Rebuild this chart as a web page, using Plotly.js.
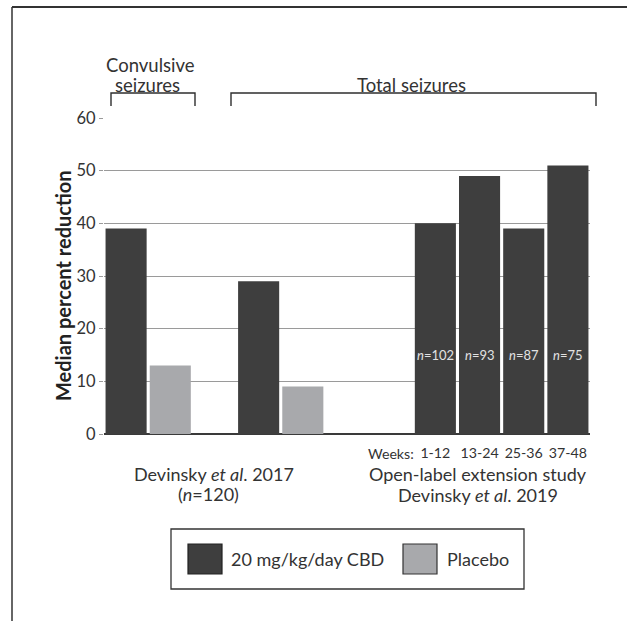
<!DOCTYPE html>
<html>
<head>
<meta charset="utf-8">
<script src="https://cdn.plot.ly/plotly-3.0.1.min.js"></script>
<style>
  html, body { margin: 0; padding: 0; background: #fff; }
  #chart { width: 627px; height: 621px; }
</style>
</head>
<body>
<div id="chart"></div>
<script>
// ---- Data ----
var categories = ["CBD convulsive 2017", "Placebo convulsive 2017", "gap1",
                  "CBD total 2017", "Placebo total 2017", "gap2", "gap3",
                  "Weeks 1-12", "Weeks 13-24", "Weeks 25-36", "Weeks 37-48"];
var cbdCategories = ["CBD convulsive 2017", "CBD total 2017",
                     "Weeks 1-12", "Weeks 13-24", "Weeks 25-36", "Weeks 37-48"];
var cbdValues = [39, 29, 40, 49, 39, 51];
var placeboCategories = ["Placebo convulsive 2017", "Placebo total 2017"];
var placeboValues = [13, 9];
var weekCategories = ["Weeks 1-12", "Weeks 13-24", "Weeks 25-36", "Weeks 37-48"];
var weekLabels = ["1-12", "13-24", "25-36", "37-48"];
var weekN = ["102", "93", "87", "75"];
var yTicks = [0, 10, 20, 30, 40, 50, 60];

// ---- Styling ----
var FONT = "Lato, 'Open Sans', sans-serif";
var TXT = "#333333";
var DARK = "#3e3e3e";
var GRAY = "#a8a9ac";

// plot area in pixels: x 104..590, y 118..434
var L = 104, R = 590, T = 118, B = 434;
function px(x) { return (x - L) / (R - L); }
function py(y) { return (B - y) / (B - T); }

var traces = [
  { type: "bar", x: cbdCategories, y: cbdValues, name: "20 mg/kg/day CBD",
    marker: { color: DARK }, hoverinfo: "x+y" },
  { type: "bar", x: placeboCategories, y: placeboValues, name: "Placebo",
    marker: { color: GRAY }, hoverinfo: "x+y" }
];

function note(text, x, y, size, anchor) {
  return { text: text, xref: "paper", yref: "paper", x: px(x), y: py(y), showarrow: false,
           font: { family: FONT, size: size, color: TXT }, xanchor: anchor || "center", yanchor: "middle" };
}

var yTitle = note("<b>Median percent reduction</b>", 63, 286, 20);
yTitle.textangle = -90;
yTitle.font.color = "#222";

var annotations = [
  yTitle,
  note("Convulsive", 150, 65, 18.5),
  note("seizures", 147, 85, 18.5),
  note("Total seizures", 411, 85, 18.5),
  note("Weeks:", 416, 453, 14.2, "right"),
  note("Devinsky <i>et al</i>. 2017", 214, 474, 18),
  note("(<i>n</i>=120)", 208, 494, 18),
  note("Open-label extension study", 478, 474, 18),
  note("Devinsky <i>et al</i>. 2019", 478, 495, 18),
  note("20 mg/kg/day CBD", 229, 559, 18, "left"),
  note("Placebo", 445, 559, 18, "left")
];
weekCategories.forEach(function (c, i) {
  annotations.push({ text: "<i>n</i>=" + weekN[i], xref: "x", yref: "y", x: c, y: 15,
    showarrow: false, font: { family: FONT, size: 13, color: "#e2e2e2" },
    xanchor: "center", yanchor: "middle" });
});

var lineC = { color: "#2e2e2e", width: 1.4 };
var shapes = [
  // outer frame (top + left)
  { type: "line", xref: "paper", yref: "paper", x0: px(12), x1: px(627), y0: py(7), y1: py(7),
    line: { color: "#333", width: 2 } },
  { type: "line", xref: "paper", yref: "paper", x0: px(12), x1: px(12), y0: py(7), y1: py(621),
    line: { color: "#333", width: 1.5 } },
  // Convulsive bracket
  { type: "path", xref: "paper", yref: "paper",
    path: "M" + px(111) + "," + py(106) + " L" + px(111) + "," + py(93) + " L" + px(195) + "," + py(93) + " L" + px(195) + "," + py(106),
    line: lineC },
  // Total bracket
  { type: "path", xref: "paper", yref: "paper",
    path: "M" + px(231) + "," + py(106) + " L" + px(231) + "," + py(93) + " L" + px(596) + "," + py(93) + " L" + px(596) + "," + py(106),
    line: lineC },
  // legend box
  { type: "rect", xref: "paper", yref: "paper", x0: px(171), x1: px(524), y0: py(529), y1: py(589),
    line: { color: "#333", width: 1.3 }, fillcolor: "rgba(0,0,0,0)" },
  { type: "rect", xref: "paper", yref: "paper", x0: px(188), x1: px(222), y0: py(544), y1: py(574),
    line: { color: "#222", width: 1.2 }, fillcolor: DARK },
  { type: "rect", xref: "paper", yref: "paper", x0: px(403), x1: px(437), y0: py(544), y1: py(574),
    line: { color: "#333", width: 1.2 }, fillcolor: GRAY }
];

var layout = {
  width: 627, height: 621,
  margin: { l: L, r: 627 - R, t: T, b: 621 - B, pad: 0 },
  paper_bgcolor: "#fff", plot_bgcolor: "#fff",
  barmode: "overlay", bargap: 0.07,
  showlegend: false,
  font: { family: FONT, color: TXT },
  xaxis: {
    type: "category", categoryorder: "array", categoryarray: categories,
    range: [-0.5, 10.5], showgrid: false, zeroline: false,
    showline: false, ticks: "",
    tickvals: weekCategories, ticktext: weekLabels,
    tickfont: { family: FONT, size: 14.2, color: TXT },
    ticklabelstandoff: 9, fixedrange: true
  },
  yaxis: {
    range: [0, 60], tickvals: yTicks, showgrid: true, gridcolor: "#9a9a9a", gridwidth: 1,
    zeroline: true, zerolinecolor: "#3a3a3a", zerolinewidth: 1.6,
    showline: false, ticks: "outside", ticklen: 4, tickcolor: "#9a9a9a", tickwidth: 1,
    tickfont: { family: FONT, size: 16.5, color: TXT },
    automargin: false, fixedrange: true
  },
  annotations: annotations,
  shapes: shapes
};

Plotly.newPlot("chart", traces, layout, { displayModeBar: false, staticPlot: true });
</script>
</body>
</html>
